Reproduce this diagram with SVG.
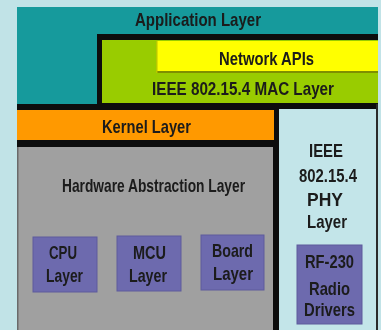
<svg xmlns="http://www.w3.org/2000/svg" width="381" height="330" viewBox="0 0 381 330">
  <style>
    .lbl { font-family: "Liberation Sans", Arial, sans-serif; font-weight: bold; font-size: 18.5px; fill: #1a1a1a; text-anchor: middle; }
    .box { fill: #6d6aae; stroke: #5e5b9c; stroke-width: 1; }
  </style>
  <defs>
    <filter id="soft" x="-5%" y="-5%" width="110%" height="110%">
      <feGaussianBlur stdDeviation="0.35"/>
    </filter>
  </defs>

  <!-- page background -->
  <rect x="0" y="0" width="381" height="330" fill="#c1e3e7"/>

  <g filter="url(#soft)">
    <!-- black frame lines showing between the layers -->
    <rect x="17" y="34" width="361" height="296" fill="#0a0a0a"/>

    <g id="application-layer">
      <path d="M17 7 H378 V34 H97 V104 H17 Z" fill="#129a9c"/>
      <text class="lbl" x="198" y="26" textLength="126" lengthAdjust="spacingAndGlyphs">Application Layer</text>
    </g>

    <g id="mac-layer">
      <rect x="102" y="40" width="276" height="63" fill="#99cc00"/>
      <text class="lbl" x="243" y="95" font-size="17.5" textLength="182" lengthAdjust="spacingAndGlyphs">IEEE 802.15.4 MAC Layer</text>
    </g>

    <g id="network-apis">
      <rect x="157" y="41" width="221" height="30" fill="#ffff00"/>
      <rect x="157" y="71" width="221" height="2" fill="#7f8f00"/>
      <rect x="156" y="41" width="1.5" height="32" fill="#b8c800"/>
      <text class="lbl" x="266.5" y="65" font-size="17.5" textLength="95" lengthAdjust="spacingAndGlyphs">Network APIs</text>
    </g>

    <g id="kernel-layer">
      <rect x="17" y="110" width="257" height="30" fill="#ff9900"/>
      <text class="lbl" x="146.5" y="133" textLength="89" lengthAdjust="spacingAndGlyphs">Kernel Layer</text>
    </g>

    <g id="hardware-abstraction-layer">
      <rect x="17" y="147" width="256" height="183" fill="#a0a0a0"/>
      <rect x="17" y="147" width="1.5" height="183" fill="#6a6a6a"/>
      <text class="lbl" x="153.5" y="192" textLength="183" lengthAdjust="spacingAndGlyphs">Hardware Abstraction Layer</text>
    </g>

    <g id="cpu-layer">
      <rect class="box" x="33" y="237" width="64" height="55"/>
      <text class="lbl" x="63" y="259" textLength="28" lengthAdjust="spacingAndGlyphs">CPU</text>
      <text class="lbl" x="64.5" y="282" textLength="37" lengthAdjust="spacingAndGlyphs">Layer</text>
    </g>

    <g id="mcu-layer">
      <rect class="box" x="117" y="236" width="64" height="55"/>
      <text class="lbl" x="149.5" y="259" textLength="33" lengthAdjust="spacingAndGlyphs">MCU</text>
      <text class="lbl" x="148" y="282" textLength="38" lengthAdjust="spacingAndGlyphs">Layer</text>
    </g>

    <g id="board-layer">
      <rect class="box" x="201" y="235" width="63" height="55"/>
      <text class="lbl" x="232.5" y="257" textLength="41" lengthAdjust="spacingAndGlyphs">Board</text>
      <text class="lbl" x="233" y="280" textLength="40" lengthAdjust="spacingAndGlyphs">Layer</text>
    </g>

    <g id="phy-layer">
      <rect x="279" y="109" width="97" height="221" fill="#c3e5e9"/>
      <rect x="376" y="104" width="2" height="226" fill="#2a2a2a"/>
      <text class="lbl" x="326" y="157" textLength="34" lengthAdjust="spacingAndGlyphs">IEEE</text>
      <text class="lbl" x="328" y="182" textLength="58" lengthAdjust="spacingAndGlyphs">802.15.4</text>
      <text class="lbl" x="325" y="206" textLength="36" lengthAdjust="spacingAndGlyphs">PHY</text>
      <text class="lbl" x="327" y="228" textLength="40" lengthAdjust="spacingAndGlyphs">Layer</text>
    </g>

    <g id="radio-drivers">
      <rect class="box" x="297" y="245" width="65" height="79"/>
      <text class="lbl" x="329.5" y="268" textLength="49" lengthAdjust="spacingAndGlyphs">RF-230</text>
      <text class="lbl" x="329.5" y="295" textLength="41" lengthAdjust="spacingAndGlyphs">Radio</text>
      <text class="lbl" x="329.5" y="316" textLength="51" lengthAdjust="spacingAndGlyphs">Drivers</text>
    </g>
  </g>

  <!-- connectors: none, the layers simply abut -->
  <g id="connectors"/>
</svg>
